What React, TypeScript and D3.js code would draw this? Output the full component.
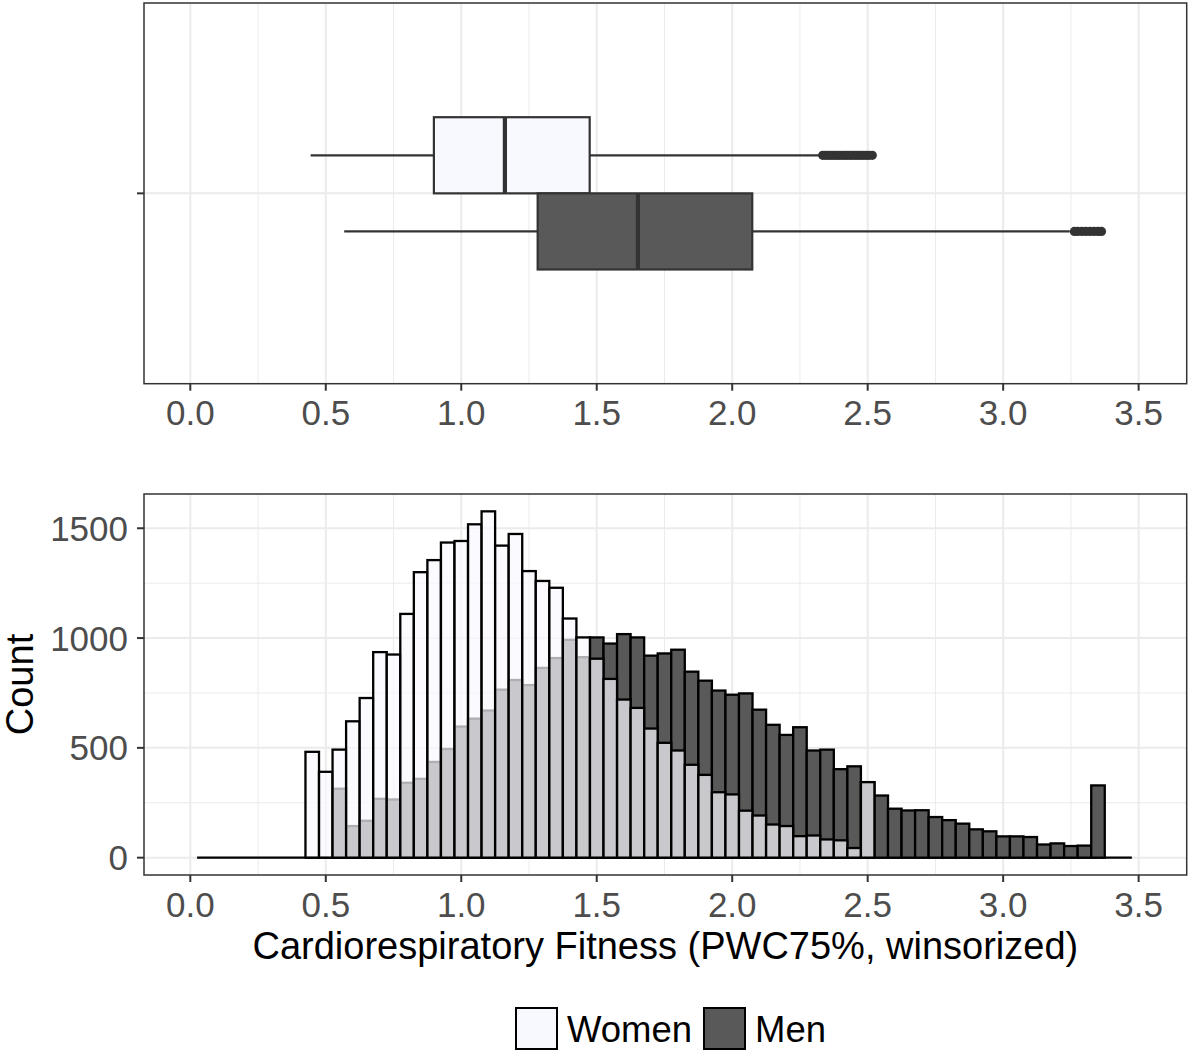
import React from "react";
import * as d3 from "d3";

// ---------- data ----------
const binWidth = 0.05;
const histStart = 0.025;
const histEnd = 3.475;

const womenBinStart = 0.425;
const womenCounts = [
  482, 391, 492, 621, 727, 936, 925, 1110, 1300, 1355, 1435, 1442, 1518, 1577,
  1421, 1474, 1305, 1260, 1229, 1089, 1003, 906, 814, 720, 682, 588, 523, 488,
  423, 377, 298, 288, 214, 192, 151, 144, 98, 101, 83, 79, 44, 344,
];

const menBinStart = 0.525;
const menCounts = [
  314, 144, 168, 268, 265, 341, 359, 436, 495, 597, 633, 670, 765, 809, 786,
  864, 909, 992, 913, 1003, 975, 1018, 1003, 920, 930, 947, 847, 806, 761, 742,
  748, 674, 605, 559, 594, 488, 492, 403, 416, 344, 283, 223, 215, 216, 185,
  171, 155, 129, 120, 97, 97, 94, 60, 65, 53, 55, 329,
];

const groups = ["Women", "Men"];
const groupFill = ["#F8F8FF", "#595959"];

// box stats: [lowerWhisker, q1, median, q3, upperWhisker]
const womenBox = [0.444, 0.899, 1.161, 1.474, 2.324];
const menBox = [0.568, 1.282, 1.652, 2.074, 3.246];
const womenOutliers = [
  2.334, 2.345, 2.355, 2.365, 2.375, 2.385, 2.395, 2.405, 2.415, 2.425, 2.435,
  2.445, 2.455, 2.465, 2.475, 2.485, 2.495, 2.505, 2.517,
];
const menOutliers = [3.263, 3.275, 3.29, 3.305, 3.32, 3.335, 3.35, 3.363];

const xTicks = [0, 0.5, 1, 1.5, 2, 2.5, 3, 3.5];
const xMinor = [0.25, 0.75, 1.25, 1.75, 2.25, 2.75, 3.25];
const yTicks = [0, 500, 1000, 1500];
const yMinor = [250, 750, 1250];

// ---------- layout ----------
const W = 1192;
const H = 1057;
const pL = 144;
const pR = 1186.7;
const topP = { t: 3, b: 383.7 };
const botP = { t: 494, b: 875 };

const FONT = "'Liberation Sans', Arial, Helvetica, sans-serif";

export default function App() {
  const x = d3.scaleLinear().domain([-0.1709, 3.6774]).range([pL, pR]);
  const yTop = d3.scaleLinear().domain([0.4, 1.6]).range([topP.b, topP.t]);
  const yH = d3.scaleLinear().domain([-78.9, 1656]).range([botP.b, botP.t]);
  const fmt = d3.format(".1f");
  const boxW = 0.24;

  const boxes = [
    { stats: womenBox, out: womenOutliers, lo: 1, hi: 1 + boxW, fill: groupFill[0] },
    { stats: menBox, out: menOutliers, lo: 1 - boxW, hi: 1, fill: groupFill[1] },
  ];

  const grid = (yt: number, yb: number) => (
    <g>
      {xMinor.map((v) => (
        <line key={"mn" + v} x1={x(v)} x2={x(v)} y1={yt} y2={yb} stroke="#EBEBEB" strokeWidth={1} />
      ))}
      {xTicks.map((v) => (
        <line key={"mj" + v} x1={x(v)} x2={x(v)} y1={yt} y2={yb} stroke="#EBEBEB" strokeWidth={2} />
      ))}
    </g>
  );

  const xAxis = (yb: number) => (
    <g>
      {xTicks.map((v) => (
        <g key={"t" + v}>
          <line x1={x(v)} x2={x(v)} y1={yb} y2={yb + 7} stroke="#333333" strokeWidth={2} />
          <text x={x(v)} y={yb + 41.5} textAnchor="middle" fontSize={35} fill="#4D4D4D" fontFamily={FONT}>
            {fmt(v)}
          </text>
        </g>
      ))}
    </g>
  );

  const bars = (start: number, counts: number[], fill: string, opacity: number) =>
    counts.map((c, i) => {
      const x0 = start + i * binWidth;
      return (
        <rect
          key={i}
          x={x(x0)}
          y={yH(c)}
          width={x(x0 + binWidth) - x(x0)}
          height={yH(0) - yH(c)}
          fill={fill}
          fillOpacity={opacity}
          stroke="#000000"
          strokeWidth={2.3}
        />
      );
    });

  return (
    <svg
      width={W}
      height={H}
      style={{ position: "absolute", left: 0, top: 0, background: "#fff" }}
      fontFamily={FONT}
    >
      <rect x={0} y={0} width={W} height={H} fill="#ffffff" />

      {/* ---------- top panel: boxplots ---------- */}
      {grid(topP.t, topP.b)}
      <line x1={pL} x2={pR} y1={yTop(1)} y2={yTop(1)} stroke="#EBEBEB" strokeWidth={2} />
      {boxes.map((b, i) => {
        const yMid = (yTop(b.lo) + yTop(b.hi)) / 2;
        const [lw, q1, med, q3, uw] = b.stats;
        return (
          <g key={i}>
            <line x1={x(lw)} x2={x(q1)} y1={yMid} y2={yMid} stroke="#333333" strokeWidth={2.2} />
            <line x1={x(q3)} x2={x(uw)} y1={yMid} y2={yMid} stroke="#333333" strokeWidth={2.2} />
            <rect
              x={x(q1)}
              y={yTop(b.hi)}
              width={x(q3) - x(q1)}
              height={yTop(b.lo) - yTop(b.hi)}
              fill={b.fill}
              stroke="#333333"
              strokeWidth={2.2}
            />
            <line x1={x(med)} x2={x(med)} y1={yTop(b.hi)} y2={yTop(b.lo)} stroke="#333333" strokeWidth={4.2} />
            {b.out.map((o, j) => (
              <circle key={j} cx={x(o)} cy={yMid} r={4.6} fill="#333333" />
            ))}
          </g>
        );
      })}
      <rect x={pL} y={topP.t} width={pR - pL} height={topP.b - topP.t} fill="none" stroke="#333333" strokeWidth={1.5} />
      <line x1={pL - 7} x2={pL} y1={yTop(1)} y2={yTop(1)} stroke="#333333" strokeWidth={2} />
      {xAxis(topP.b)}

      {/* ---------- bottom panel: histogram ---------- */}
      {grid(botP.t, botP.b)}
      {yMinor.map((v) => (
        <line key={"ym" + v} x1={pL} x2={pR} y1={yH(v)} y2={yH(v)} stroke="#EBEBEB" strokeWidth={1} />
      ))}
      {yTicks.map((v) => (
        <line key={"yj" + v} x1={pL} x2={pR} y1={yH(v)} y2={yH(v)} stroke="#EBEBEB" strokeWidth={2} />
      ))}
      <line x1={x(histStart)} x2={x(histEnd)} y1={yH(0)} y2={yH(0)} stroke="#000000" strokeWidth={2.3} />
      <g>{bars(menBinStart, menCounts, groupFill[1], 1)}</g>
      <g>{bars(womenBinStart, womenCounts, groupFill[0], 0.7)}</g>
      <rect x={pL} y={botP.t} width={pR - pL} height={botP.b - botP.t} fill="none" stroke="#333333" strokeWidth={1.5} />
      {xAxis(botP.b)}
      {yTicks.map((v) => (
        <g key={"yt" + v}>
          <line x1={pL - 7} x2={pL} y1={yH(v)} y2={yH(v)} stroke="#333333" strokeWidth={2} />
          <text x={pL - 16} y={yH(v) + 12.5} textAnchor="end" fontSize={35} fill="#4D4D4D">
            {v}
          </text>
        </g>
      ))}

      {/* axis titles */}
      <text x={(pL + pR) / 2} y={959} textAnchor="middle" fontSize={38} fill="#000000">
        Cardiorespiratory Fitness (PWC75%, winsorized)
      </text>
      <text transform={`translate(33, ${(botP.t + botP.b) / 2}) rotate(-90)`} textAnchor="middle" fontSize={38} fill="#000000">
        Count
      </text>

      {/* legend */}
      {groups.map((g, i) => {
        const kx = i === 0 ? 516 : 704;
        return (
          <g key={g}>
            <rect x={kx} y={1008} width={41} height={41} fill={groupFill[i]} stroke="#000000" strokeWidth={2} />
            <text x={kx + 51} y={1042} fontSize={36.5} fill="#000000">
              {g}
            </text>
          </g>
        );
      })}
    </svg>
  );
}
